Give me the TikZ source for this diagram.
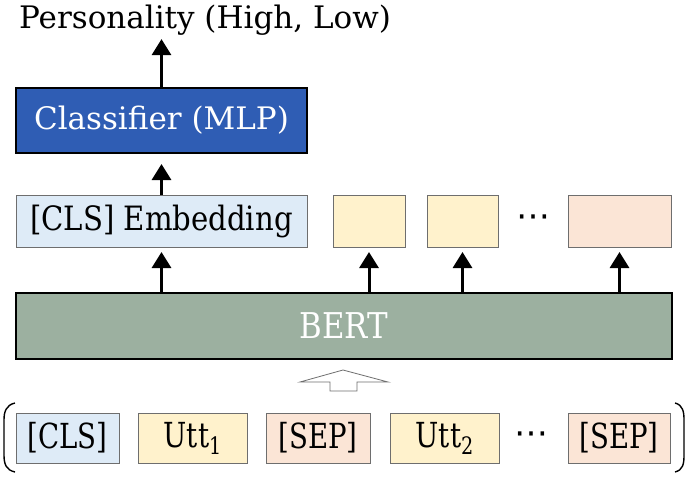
\documentclass[tikz,border=0pt]{standalone}
\usepackage{fontspec}
\setmainfont{DejaVu Serif}
\newfontfamily\symfnt{DejaVu Sans}
\newfontfamily\fnA{DejaVu Serif}[FakeStretch=0.87]
\newfontfamily\fnB{DejaVu Serif}[FakeStretch=0.8]
\usetikzlibrary{arrows.meta}
\definecolor{clsblue}{HTML}{DEEBF7}
\definecolor{uttyel}{HTML}{FFF2CC}
\definecolor{seppink}{HTML}{FBE5D6}
\definecolor{mlpblue}{HTML}{2F5DB4}
\definecolor{bertgreen}{HTML}{9CB0A0}
\definecolor{boxgray}{HTML}{6E6E6E}
\newcommand{\bigtxt}{\fontsize{31}{34}\selectfont}
\newcommand{\embtxt}{\fnA\fontsize{33.5}{36}\selectfont}
\newcommand{\bttxt}{\fnB\fontsize{34.5}{37}\selectfont}
\newcommand{\subdig}[1]{\raisebox{-0.2em}{\fontsize{24}{24}\selectfont #1}}
\tikzset{
  px/.style={x=1pt,y=-1pt},
  tok/.style={draw=boxgray, line width=0.9pt, inner sep=0pt, outer sep=0pt, font=\bttxt},
  dotsnode/.style={inner sep=0pt, font=\symfnt\fontsize{34}{34}\selectfont},
  uparrow/.style={line width=3pt, -{Triangle[width=19pt,length=16pt]}},
}
\begin{document}
\begin{tikzpicture}[px]
\useasboundingbox (0,0) rectangle (685,477);
% title
\node[anchor=base west, inner sep=0pt, font=\bigtxt] (title) at (19,28) {Personality (High, Low)};
% classifier
\node[draw=black, line width=2pt, fill=mlpblue, text=white, minimum width=291pt, minimum height=65pt, inner sep=0pt, font=\bigtxt] (mlp) at (161.5,120.5) {Classifier (MLP)};
% embedding row
\node[tok, fill=clsblue, minimum width=291pt, minimum height=52pt, font=\embtxt] (ecls) at (161.5,221) {[CLS] Embedding};
\node[tok, fill=uttyel, minimum width=72pt, minimum height=52pt] (e1) at (369,221) {};
\node[tok, fill=uttyel, minimum width=71pt, minimum height=52pt] (e2) at (462.5,221) {};
\node[dotsnode] (edots) at (533,221) {⋯};
\node[tok, fill=seppink, minimum width=103pt, minimum height=52pt] (e3) at (619.5,221) {};
% BERT
\node[draw=black, line width=2.6pt, fill=bertgreen, text=white, minimum width=656pt, minimum height=66pt, inner sep=0pt, font=\fnA\fontsize{35.5}{38}\selectfont] (bert) at (344,326) {BERT};
% input row
\node[tok, fill=clsblue, minimum width=103pt, minimum height=50pt] (icls) at (67.5,438) {[CLS]};
\node[tok, fill=uttyel, minimum width=109pt, minimum height=50pt] (iu1) at (192.5,438) {Utt\subdig{1}};
\node[tok, fill=seppink, minimum width=104pt, minimum height=50pt] (isep1) at (318,438) {[SEP]};
\node[tok, fill=uttyel, minimum width=109pt, minimum height=50pt] (iu2) at (444.5,438) {Utt\subdig{2}};
\node[dotsnode] (idots) at (531,438) {⋯};
\node[tok, fill=seppink, minimum width=102pt, minimum height=50pt] (isep2) at (619,438) {[SEP]};
% arrows
\draw[uparrow, shorten >=4pt] (mlp.north) -- (title.south -| mlp.north);
\draw[uparrow, shorten >=10pt] (ecls.north) -- (mlp.south);
\draw[uparrow, shorten >=5pt] (bert.north -| ecls.south) -- (ecls.south);
\draw[uparrow, shorten >=5pt] (bert.north -| e1.south) -- (e1.south);
\draw[uparrow, shorten >=5pt] (bert.north -| e2.south) -- (e2.south);
\draw[uparrow, shorten >=5pt] (bert.north -| e3.south) -- (e3.south);
% hollow arrow
\coordinate (tip) at (343,370);
\draw[draw=boxgray, line width=0.8pt, fill=white, line join=miter]
  (tip) -- (388,382) -- (357,382) -- (357,391) -- (330,391) -- (330,382) -- (300,382) -- cycle;
% brackets
\draw[line width=1.4pt] (15,403) .. controls (6,405) and (4,412) .. (4,420) -- (4,455) .. controls (4,464) and (6,470) .. (15,472);
\draw[line width=1.4pt] (675,403) .. controls (683,405) and (684,412) .. (684,420) -- (684,455) .. controls (684,464) and (683,470) .. (675,472);
\end{tikzpicture}
\end{document}
